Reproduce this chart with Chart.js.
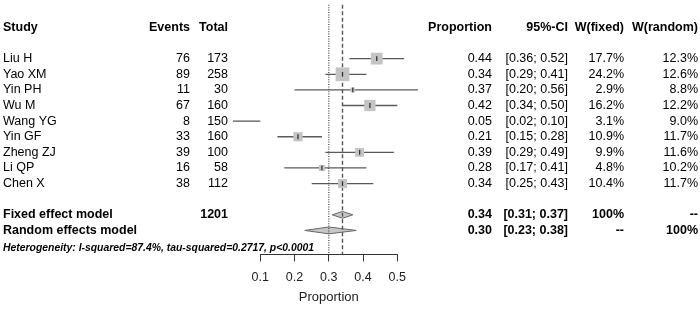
<!DOCTYPE html>
<html lang="en">
<head>
<meta charset="UTF-8">
<title>Forest plot - Proportion</title>
<script src="https://cdn.jsdelivr.net/npm/chart.js"></script>
<style>
    html, body { margin: 0; padding: 0; background: #ffffff; }
    #forest { display: block; }
</style>
</head>
<body>
<canvas id="forest" width="700" height="312"></canvas>
<script>
    // study level data
    const studies = ["Liu H", "Yao XM", "Yin PH", "Wu M", "Wang YG", "Yin GF", "Zheng ZJ", "Li QP", "Chen X"];
    const events = [76, 89, 11, 67, 8, 33, 39, 16, 38];
    const totals = [173, 258, 30, 160, 150, 160, 100, 58, 112];
    const proportions = [0.44, 0.34, 0.37, 0.42, 0.05, 0.21, 0.39, 0.28, 0.34];
    const ciLower = [0.36, 0.29, 0.20, 0.34, 0.02, 0.15, 0.29, 0.17, 0.25];
    const ciUpper = [0.52, 0.41, 0.56, 0.50, 0.10, 0.28, 0.49, 0.41, 0.43];
    const weightFixed = [17.7, 24.2, 2.9, 16.2, 3.1, 10.9, 9.9, 4.8, 10.4];
    const weightRandom = [12.3, 12.6, 8.8, 12.2, 9.0, 11.7, 11.6, 10.2, 11.7];

    // pooled models
    const modelLabels = ["Fixed effect model", "Random effects model"];
    const modelEst = [0.34, 0.30];
    const modelLower = [0.31, 0.23];
    const modelUpper = [0.37, 0.38];
    const modelWFixed = ["100%", "--"];
    const modelWRandom = ["--", "100%"];
    const totalN = 1201;
    const heterogeneity = "Heterogeneity: I-squared=87.4%, tau-squared=0.2717, p<0.0001";

    const xTicks = [0.1, 0.2, 0.3, 0.4, 0.5];

    // row layout (y units = rows)
    const ROW_MIN = -3.134, ROW_MAX = 12.535;
    const REF_TOP = -3.45;
    const HEADER_ROW = -2;
    const MODEL_ROW0 = 10;
    const HET_ROW = 12.15;
    const FONT = '"Liberation Sans", Arial, sans-serif';

    const fmt2 = v => v.toFixed(2);
    const ciText = (lo, hi) => "[" + fmt2(lo) + "; " + fmt2(hi) + "]";

    const datasets = [];

    // diamonds for pooled estimates
    modelEst.forEach((est, m) => {
        const r = MODEL_ROW0 + m;
        datasets.push({
            data: [
                { x: modelLower[m], y: r },
                { x: est, y: r - 0.22 },
                { x: modelUpper[m], y: r },
                { x: est, y: r + 0.22 },
                { x: modelLower[m], y: r }
            ],
            showLine: true,
            fill: 'shape',
            backgroundColor: '#c6c6c6',
            borderColor: '#666',
            borderWidth: 1,
            pointRadius: 0,
            tension: 0,
            clip: false,
            order: 6
        });
    });

    // reference lines: fixed (dashed) and random (dotted)
    datasets.push({
        data: [{ x: modelEst[0], y: REF_TOP }, { x: modelEst[0], y: ROW_MAX }],
        showLine: true, borderColor: '#555', borderWidth: 1.4, borderDash: [4, 2.5],
        pointRadius: 0, clip: false, order: 5
    });
    datasets.push({
        data: [{ x: modelEst[1], y: REF_TOP }, { x: modelEst[1], y: ROW_MAX }],
        showLine: true, borderColor: '#444', borderWidth: 1.2, borderDash: [1, 1.4],
        pointRadius: 0, clip: false, order: 5
    });

    // confidence intervals
    studies.forEach((s, i) => {
        datasets.push({
            data: [{ x: ciLower[i], y: i }, { x: ciUpper[i], y: i }],
            showLine: true, borderColor: '#5a5a5a', borderWidth: 1.3,
            pointRadius: 0, clip: false, order: 4
        });
    });

    // weighted boxes
    datasets.push({
        data: proportions.map((p, i) => ({ x: p, y: i })),
        pointStyle: 'rect',
        pointRadius: ctx => 2.8 * Math.sqrt(weightFixed[ctx.dataIndex]) / Math.SQRT2,
        backgroundColor: '#c4c4c4',
        borderWidth: 0,
        clip: false,
        order: 3
    });

    // estimate marks inside the boxes
    datasets.push({
        data: proportions.map((p, i) => ({ x: p, y: i })),
        pointStyle: 'line',
        rotation: 90,
        pointRadius: 2.4,
        borderColor: '#333',
        borderWidth: 1.3,
        clip: false,
        order: 2
    });

    const tablePlugin = {
        id: 'forestTable',
        afterDraw(chart) {
            const ctx = chart.ctx;
            const ys = chart.scales.y;
            const row = r => ys.getPixelForValue(r);
            const put = (txt, x, r, align, weight) => {
                ctx.font = (weight || 'normal') + ' 12.5px ' + FONT;
                ctx.textAlign = align;
                ctx.fillText(txt, x, row(r));
            };
            ctx.save();
            ctx.fillStyle = '#000';
            ctx.textBaseline = 'middle';

            // header
            put("Study", 3, HEADER_ROW, 'left', 'bold');
            put("Events", 190, HEADER_ROW, 'right', 'bold');
            put("Total", 228, HEADER_ROW, 'right', 'bold');
            put("Proportion", 492, HEADER_ROW, 'right', 'bold');
            put("95%-CI", 568, HEADER_ROW, 'right', 'bold');
            put("W(fixed)", 624, HEADER_ROW, 'right', 'bold');
            put("W(random)", 698, HEADER_ROW, 'right', 'bold');

            studies.forEach((s, i) => {
                put(s, 3, i, 'left');
                put(String(events[i]), 190, i, 'right');
                put(String(totals[i]), 228, i, 'right');
                put(fmt2(proportions[i]), 492, i, 'right');
                put(ciText(ciLower[i], ciUpper[i]), 568, i, 'right');
                put(weightFixed[i].toFixed(1) + "%", 624, i, 'right');
                put(weightRandom[i].toFixed(1) + "%", 698, i, 'right');
            });

            modelLabels.forEach((lab, m) => {
                const r = MODEL_ROW0 + m;
                put(lab, 3, r, 'left', 'bold');
                if (m === 0) put(String(totalN), 228, r, 'right', 'bold');
                put(fmt2(modelEst[m]), 492, r, 'right', 'bold');
                put(ciText(modelLower[m], modelUpper[m]), 568, r, 'right', 'bold');
                put(modelWFixed[m], 624, r, 'right', 'bold');
                put(modelWRandom[m], 698, r, 'right', 'bold');
            });

            ctx.font = 'italic bold 10.4px ' + FONT;
            ctx.textAlign = 'left';
            ctx.fillText(heterogeneity, 3, row(HET_ROW));
            ctx.restore();
        }
    };

    new Chart(document.getElementById("forest"), {
        type: 'scatter',
        data: { datasets: datasets },
        options: {
            responsive: false,
            animation: false,
            layout: { padding: { left: 260.3, right: 302.7, top: 3, bottom: 7 } },
            plugins: { legend: { display: false }, tooltip: { enabled: false } },
            scales: {
                x: {
                    type: 'linear',
                    min: 0.1,
                    max: 0.5,
                    afterBuildTicks: axis => { axis.ticks = xTicks.map(v => ({ value: v })); },
                    grid: { drawOnChartArea: false, drawTicks: true, tickLength: 7, color: '#333' },
                    border: { color: '#333', width: 1 },
                    ticks: {
                        font: { family: FONT, size: 12.5 },
                        color: '#222',
                        padding: 9,
                        maxRotation: 0,
                        autoSkip: false,
                        callback: v => v.toFixed(1)
                    },
                    title: {
                        display: true,
                        text: 'Proportion',
                        font: { family: FONT, size: 13 },
                        color: '#222',
                        padding: { top: -5, bottom: 0 }
                    }
                },
                y: {
                    type: 'linear',
                    reverse: true,
                    min: ROW_MIN,
                    max: ROW_MAX,
                    display: false
                }
            }
        },
        plugins: [tablePlugin]
    });
</script>
</body>
</html>
